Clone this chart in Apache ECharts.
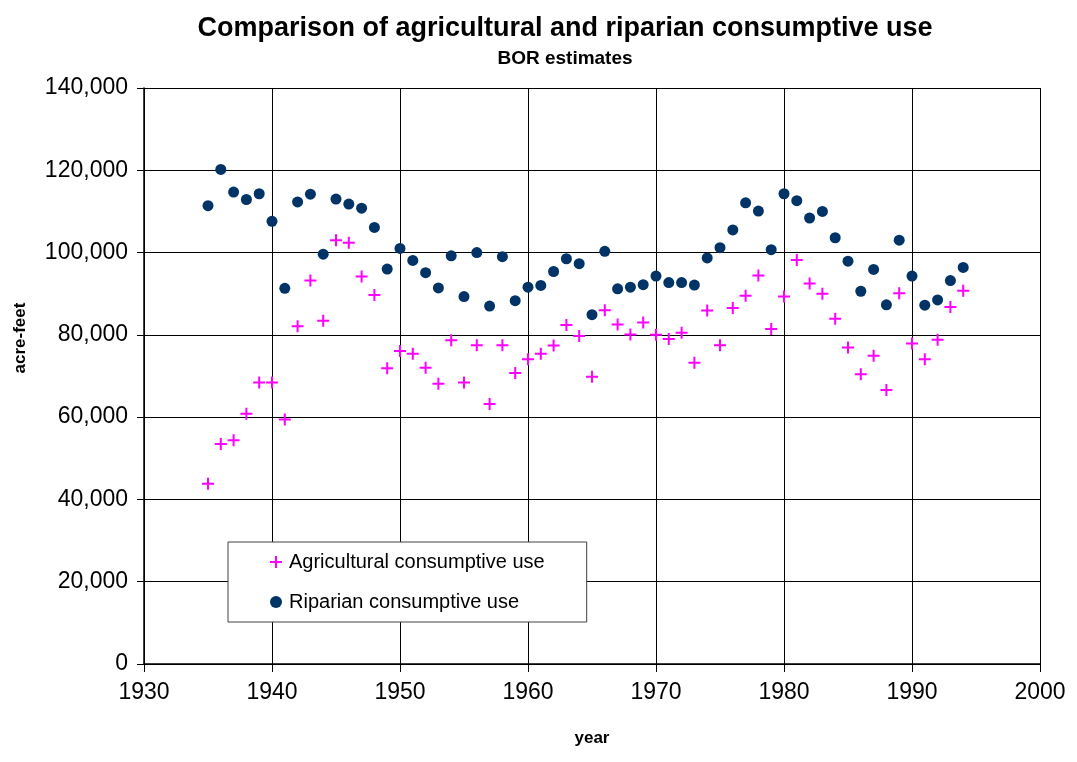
<!DOCTYPE html>
<html>
<head>
<meta charset="utf-8">
<title>Comparison of agricultural and riparian consumptive use</title>
<script src="https://cdn.jsdelivr.net/npm/echarts@6/dist/echarts.min.js"></script>
<style>
  html, body { margin: 0; padding: 0; background: #ffffff; }
  #chart { width: 1077px; height: 762px; }
</style>
</head>
<body>
<div id="chart"></div>
<script>
// Water year of each estimate
const years = [
  1935, 1936, 1937, 1938, 1939, 1940, 1941, 1942, 1943, 1944,
  1945, 1946, 1947, 1948, 1949, 1950, 1951, 1952, 1953, 1954,
  1955, 1956, 1957, 1958, 1959, 1960, 1961, 1962, 1963, 1964,
  1965, 1966, 1967, 1968, 1969, 1970, 1971, 1972, 1973, 1974,
  1975, 1976, 1977, 1978, 1979, 1980, 1981, 1982, 1983, 1984,
  1985, 1986, 1987, 1988, 1989, 1990, 1991, 1992, 1993, 1994
];

// Agricultural consumptive use, acre-feet
const agricultural = [
  43800, 53500, 54400, 60800, 68400, 68400, 59400, 82100, 93200, 83400,
  103000, 102400, 94200, 89700, 71900, 76100, 75400, 72000, 68100, 78700,
  68400, 77500, 63200, 77500, 70700, 74100, 75400, 77400, 82400, 79700,
  69800, 86000, 82500, 80100, 83000, 80000, 79000, 80500, 73200, 85900,
  77500, 86500, 89500, 94400, 81400, 89300, 98200, 92500, 90000, 83900,
  76900, 70400, 74900, 66600, 90100, 77900, 74100, 78800, 86800, 90700
];

// Riparian consumptive use, acre-feet
const riparian = [
  111400, 120200, 114700, 112900, 114300, 107600, 91300, 112300, 114200, 99600,
  113000, 111800, 110800, 106100, 96000, 101000, 98100, 95100, 91400, 99200,
  89300, 100000, 87000, 99000, 88300, 91600, 92000, 95400, 98500, 97300,
  84900, 100300, 91200, 91600, 92200, 94300, 92700, 92700, 92100, 98700,
  101200, 105500, 112100, 110100, 100700, 114300, 112600, 108400, 110000, 103600,
  97900, 90600, 95900, 87300, 103000, 94300, 87200, 88500, 93200, 96400
];

const seriesNames = ['Agricultural consumptive use', 'Riparian consumptive use'];

const FONT = '"Liberation Sans", Arial, sans-serif';
const PLUS = 'path://M5,0 H7 V5 H12 V7 H7 V12 H5 V7 H0 V5 H5 Z';

const chart = echarts.init(document.getElementById('chart'), null, { renderer: 'canvas' });

const pairs = (vals) => years.map((y, i) => [y, vals[i]]);

chart.setOption({
  backgroundColor: '#ffffff',
  animation: false,
  title: [
    {
      text: 'Comparison of agricultural and riparian consumptive use',
      left: 565, top: 15, textAlign: 'center', padding: 0,
      textStyle: { fontFamily: FONT, fontSize: 27, fontWeight: 'bold', color: '#000' }
    },
    {
      text: 'BOR estimates',
      left: 565, top: 49, textAlign: 'center', padding: 0,
      textStyle: { fontFamily: FONT, fontSize: 19, fontWeight: 'bold', color: '#000' }
    }
  ],
  graphic: [
    {
      type: 'text',
      x: 20, y: 338, rotation: Math.PI / 2,
      style: {
        text: 'acre-feet', fontFamily: FONT, fontSize: 17, fontWeight: 'bold',
        fill: '#000', align: 'center', verticalAlign: 'middle'
      }
    }
  ],
  legend: {
    orient: 'vertical',
    left: 228, top: 542,
    padding: [10, 42, 10, 42],
    backgroundColor: '#ffffff',
    borderColor: '#404040', borderWidth: 1,
    itemWidth: 12, itemHeight: 12, itemGap: 20,
    textStyle: { fontFamily: FONT, fontSize: 20, color: '#000', lineHeight: 20, padding: [0, 0, 0, 2] },
    data: [
      { name: seriesNames[0], icon: PLUS },
      { name: seriesNames[1], icon: 'circle' }
    ]
  },
  grid: { left: 144, right: 37, top: 88, bottom: 98, containLabel: false },
  xAxis: {
    type: 'value', min: 1930, max: 2000, interval: 10,
    name: 'year', nameLocation: 'middle', nameGap: 66,
    nameTextStyle: { fontFamily: FONT, fontSize: 17, fontWeight: 'bold', color: '#000' },
    axisLine: { show: true, onZero: false, lineStyle: { color: '#000', width: 1.5 } },
    axisTick: { show: true, length: 8, lineStyle: { color: '#000' } },
    axisLabel: { fontFamily: FONT, fontSize: 23, color: '#000', margin: 17, formatter: (v) => String(v) },
    splitLine: { show: true, lineStyle: { color: '#000', width: 1 } }
  },
  yAxis: {
    type: 'value', min: 0, max: 140000, interval: 20000,
    axisLine: { show: true, lineStyle: { color: '#000', width: 1.5 } },
    axisTick: { show: true, length: 7, lineStyle: { color: '#000' } },
    axisLabel: {
      fontFamily: FONT, fontSize: 23, color: '#000', margin: 16,
      formatter: (v) => v.toLocaleString('en-US')
    },
    splitLine: { show: true, lineStyle: { color: '#000', width: 1 } }
  },
  series: [
    {
      name: seriesNames[0], type: 'scatter',
      symbol: PLUS, symbolSize: 12,
      itemStyle: { color: '#ff00ff', opacity: 1 },
      data: pairs(agricultural), z: 3
    },
    {
      name: seriesNames[1], type: 'scatter',
      symbol: 'circle', symbolSize: 11,
      itemStyle: { color: '#003366', opacity: 1 },
      data: pairs(riparian), z: 2
    }
  ]
});
</script>
</body>
</html>
